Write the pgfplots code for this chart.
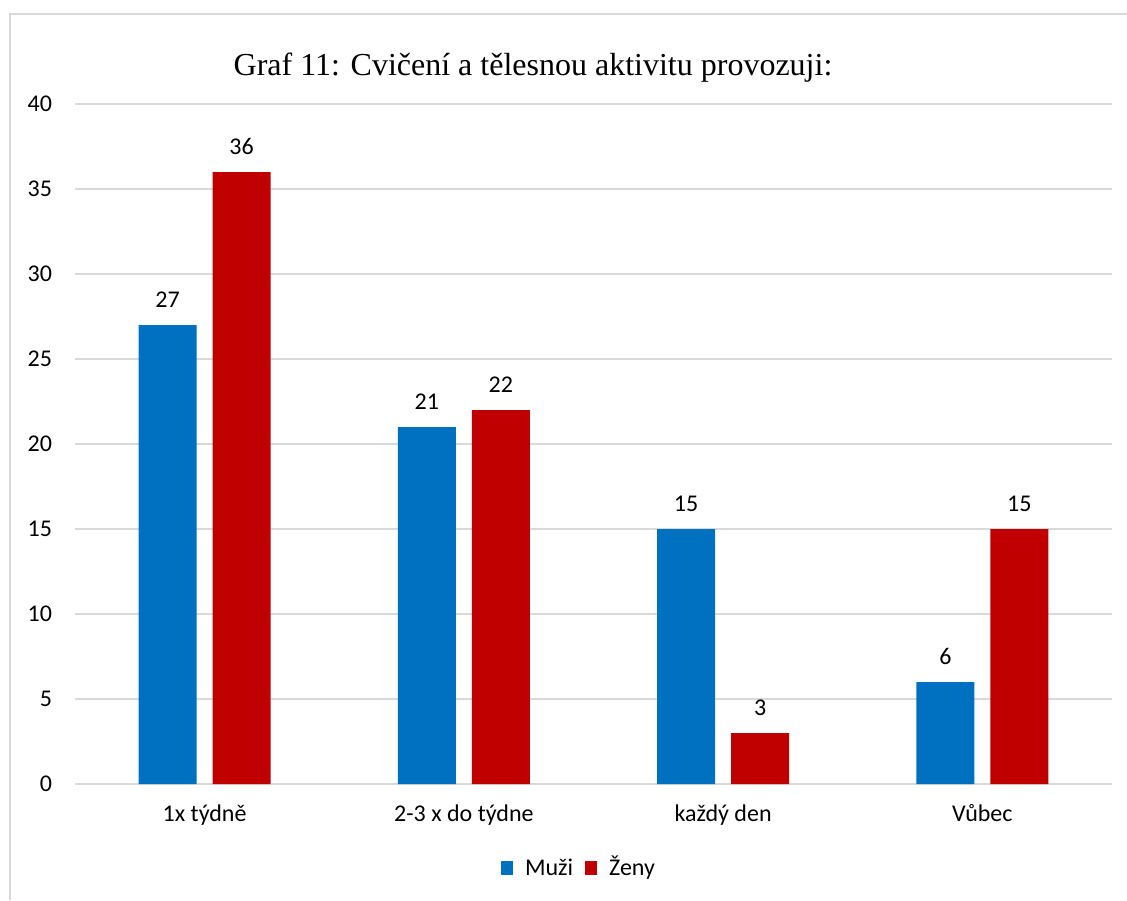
\documentclass[border=0pt]{standalone}
\usepackage{fontspec}
\setmainfont{Carlito}
\newfontfamily\titlefont{Liberation Serif}
\usepackage{pgfplots}
\pgfplotsset{compat=1.18}
\definecolor{muzi}{HTML}{0070C0}
\definecolor{zeny}{HTML}{C00000}
\definecolor{gridgray}{HTML}{D9D9D9}
\definecolor{framegray}{HTML}{D9D9D9}
\begin{document}
\begin{tikzpicture}[x=1pt,y=1pt]
\useasboundingbox (0,0) rectangle (563.5,450);
% chart frame (top and left edges visible)
\draw[framegray, line width=0.8pt] (5,0) -- (5,443) -- (563.5,443);

\begin{axis}[
    at={(37.5pt,58pt)}, anchor=south west,
    scale only axis,
    width=518.5pt, height=340pt,
    ybar=8pt, bar width=29pt,
    xmin=-0.5, xmax=3.5, ymin=0, ymax=40,
    xtick={0,1,2,3},
    xticklabels={1x týdně, 2-3 x do týdne, každý den, Vůbec},
    ytick={0,5,...,40},
    ymajorgrids,
    grid style={gridgray, line width=0.8pt},
    axis x line*=bottom,
    axis y line*=left,
    x axis line style={gridgray, line width=1pt},
    y axis line style={draw=none},
    major tick length=0pt,
    tick label style={font=\fontsize{12}{14}\selectfont, text=black},
    /pgf/number format/assume math mode=true,
    yticklabel style={xshift=-8pt},
    xticklabel style={anchor=base, yshift=-18.5pt},
    nodes near coords,
    every node near coord/.append style={font=\fontsize{12}{14}\selectfont, text=black, yshift=5pt},
    legend style={draw=none, fill=none, font=\fontsize{12}{14}\selectfont,
                  at={(0.487,-0.1235)}, anchor=center,
                  legend columns=2, column sep=4pt,
                  nodes={text height=2.1ex, text depth=0.5ex},
                  /tikz/every even column/.append style={column sep=4pt}},
    legend image code/.code={\fill[#1] (0pt,-3.5pt) rectangle (6pt,3.5pt);},
  ]

\addplot[draw=none, fill=muzi] coordinates {(0,27) (1,21) (2,15) (3,6)};
\addlegendentry{Muži}

\addplot[draw=none, fill=zeny] coordinates {(0,36) (1,22) (2,3) (3,15)};
\addlegendentry{Ženy}

\end{axis}

\node[font=\titlefont\fontsize{16}{19}\selectfont] at (266.5,416) {Graf 11: Cvičení a tělesnou aktivitu provozuji:};
\end{tikzpicture}
\end{document}
